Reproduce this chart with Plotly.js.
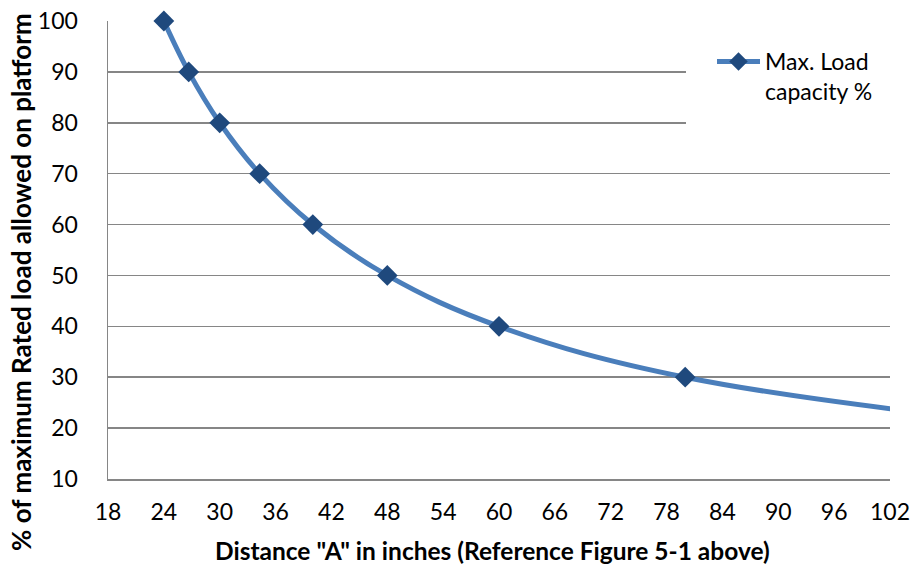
<!DOCTYPE html>
<html>
<head>
<meta charset="utf-8">
<script src="https://cdn.plot.ly/plotly-3.0.1.min.js"></script>
<style>html,body{margin:0;padding:0;background:#fff;}#chart{width:911px;height:567px;}</style>
</head>
<body>
<div id="chart"></div>
<script>
var distanceInches = [24, 26.67, 30, 34.29, 40, 48, 60, 80, 120];
var loadCapacityPct = [100, 90, 80, 70, 60, 50, 40, 30, 20];
var seriesName = "Max. Load<br>capacity %";
var xTickVals = [18, 24, 30, 36, 42, 48, 54, 60, 66, 72, 78, 84, 90, 96, 102];
var yTickVals = [10, 20, 30, 40, 50, 60, 70, 80, 90, 100];
var xTitle = "Distance \"A\" in inches (Reference Figure 5-1 above)";
var yTitle = "% of maximum Rated load allowed on platform";

var font = "Lato, 'Open Sans', sans-serif";
// last point lies beyond the axis range (curve continues off-chart), so its marker is hidden
var markerSizes = distanceInches.map(function (x) { return x > 102 ? 0 : 16; });

var M = {l: 108, r: 21, t: 21, b: 88};
var PW = 911 - M.l - M.r, PH = 567 - M.t - M.b;
function px(x) { return (x - M.l) / PW; }
function py(y) { return (567 - M.b - y) / PH; }

var trace = {
  x: distanceInches,
  y: loadCapacityPct,
  name: seriesName,
  type: "scatter",
  mode: "lines+markers",
  line: {color: "#4A7EBB", width: 5, shape: "spline", smoothing: 1.1},
  marker: {symbol: "diamond", size: markerSizes, color: "#1F497D", opacity: 1, line: {width: 0}},
  cliponaxis: false,
  showlegend: true
};
var layout = {
  width: 911, height: 567,
  margin: M,
  paper_bgcolor: "#fff", plot_bgcolor: "#fff",
  font: {family: font, size: 23, color: "#000"},
  xaxis: {
    range: [18, 102], tickvals: xTickVals, ticktext: xTickVals.map(String),
    tickfont: {family: font, size: 23, color: "#000"},
    showgrid: false, zeroline: false, showline: true, linecolor: "#868686", linewidth: 1.5,
    ticks: "", ticklabelstandoff: 12, ticklabeloverflow: "allow"
  },
  yaxis: {
    range: [10, 100], tickvals: yTickVals, ticktext: yTickVals.map(String),
    tickfont: {family: font, size: 23, color: "#000"},
    showgrid: true, gridcolor: "#868686", gridwidth: 1.5, zeroline: false,
    showline: true, linecolor: "#868686", linewidth: 1.5,
    ticks: "", ticklabelstandoff: 24
  },
  annotations: [
    {text: xTitle, xref: "paper", yref: "paper", x: px(492), y: py(550),
     xanchor: "center", yanchor: "middle", showarrow: false,
     font: {family: font, size: 24.5, weight: "bold", color: "#000"}},
    {text: yTitle, xref: "paper", yref: "paper", x: px(21), y: py(282),
     xanchor: "center", yanchor: "middle", showarrow: false, textangle: -90,
     font: {family: font, size: 26, weight: "bold", color: "#000"}}
  ],
  shapes: [{
    type: "rect", xref: "paper", yref: "paper", layer: "above",
    x0: px(686), x1: px(911), y0: py(126), y1: py(0),
    fillcolor: "#fff", line: {width: 0}
  }],
  legend: {
    x: px(712), y: py(40), xanchor: "left", yanchor: "top",
    bgcolor: "rgba(0,0,0,0)", font: {family: font, size: 23, color: "#000"},
    itemwidth: 43, valign: "top"
  }
};
Plotly.newPlot("chart", [trace], layout, {displayModeBar: false, staticPlot: true});
</script>
</body>
</html>
